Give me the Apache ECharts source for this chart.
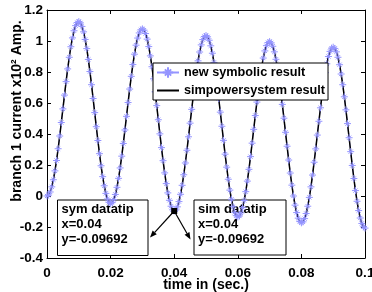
<!DOCTYPE html>
<html>
<head>
<meta charset="utf-8">
<script src="https://cdn.jsdelivr.net/npm/echarts@6/dist/echarts.min.js"></script>
<style>
  html, body { margin: 0; padding: 0; background: #fff; }
  #main { width: 372px; height: 292px; }
</style>
</head>
<body>
<div id="main"></div>
<script>
// sample step of both results (sec.)
var timeStep = 0.0005;
// branch 1 current (x10^2 A), one value per sample, t = 0 .. 0.1
var current = [
  0, 0.006, 0.026, 0.059, 0.105, 0.162, 0.229, 0.305, 0.387, 0.474,
  0.562, 0.651, 0.738, 0.820, 0.895, 0.963, 1.020, 1.066, 1.099, 1.119,
  1.125, 1.117, 1.094, 1.059, 1.010, 0.951, 0.881, 0.803, 0.718, 0.629,
  0.538, 0.447, 0.358, 0.273, 0.195, 0.125, 0.066, 0.017, -0.019, -0.041,
  -0.049, -0.043, -0.023, 0.010, 0.056, 0.114, 0.181, 0.257, 0.339, 0.426,
  0.514, 0.603, 0.690, 0.772, 0.848, 0.915, 0.973, 1.019, 1.052, 1.072,
  1.078, 1.070, 1.048, 1.012, 0.964, 0.904, 0.834, 0.756, 0.672, 0.583,
  0.492, 0.401, 0.312, 0.228, 0.149, 0.080, 0.020, -0.028, -0.066, -0.089,
  -0.09692, -0.090, -0.070, -0.036, 0.011, 0.069, 0.137, 0.213, 0.295, 0.382,
  0.470, 0.559, 0.646, 0.728, 0.804, 0.872, 0.929, 0.975, 1.009, 1.029,
  1.035, 1.027, 1.005, 0.969, 0.921, 0.862, 0.792, 0.714, 0.629, 0.541,
  0.450, 0.359, 0.270, 0.186, 0.108, 0.038, -0.021, -0.069, -0.105, -0.127,
  -0.135, -0.129, -0.109, -0.075, -0.029, 0.028, 0.096, 0.172, 0.254, 0.341,
  0.430, 0.519, 0.606, 0.688, 0.764, 0.832, 0.890, 0.936, 0.970, 0.990,
  0.996, 0.988, 0.966, 0.930, 0.882, 0.823, 0.753, 0.675, 0.591, 0.502,
  0.411, 0.321, 0.232, 0.148, 0.070, 0.000, -0.059, -0.107, -0.143, -0.165,
  -0.173, -0.167, -0.146, -0.113, -0.066, -0.009, 0.059, 0.135, 0.218, 0.304,
  0.393, 0.482, 0.569, 0.652, 0.728, 0.796, 0.853, 0.900, 0.933, 0.954,
  0.960, 0.952, 0.930, 0.895, 0.847, 0.787, 0.718, 0.640, 0.556, 0.467,
  0.376, 0.286, 0.197, 0.113, 0.035, -0.034, -0.094, -0.142, -0.177, -0.199,
  -0.207
];
var seriesNames = ['new symbolic result', 'simpowersystem result'];
// datatip point (same on both results)
var tipPoint = [0.04, -0.09692];
var tipTitles = ['sym datatip', 'sim datatip'];

var font = '"Liberation Sans", Arial, sans-serif';
var blue = '#9494ff';
var star = 'path://M0,5L10,5M5,0L5,10M2,2L8,8M8,2L2,8';

var pts = current.map(function (v, i) {
  return [+(i * timeStep).toFixed(4), v];
});

function axisBase(extra, labelMargin) {
  var a = {
    type: 'value',
    axisLine: { onZero: false, lineStyle: { color: '#000', width: 1 } },
    axisTick: { inside: true, length: 4, lineStyle: { color: '#000', width: 1 } },
    splitLine: { show: false },
    axisLabel: { color: '#000', fontFamily: font, fontWeight: 'bold', fontSize: 13.5, margin: labelMargin || 8 }
  };
  for (var k in extra) a[k] = extra[k];
  return a;
}

var tipText = function (i) {
  return tipTitles[i] + '\nx=' + tipPoint[0] + '\ny=' + tipPoint[1];
};

var option = {
  animation: false,
  grid: { left: 47, right: 7, top: 10, bottom: 34, outerBoundsMode: 'none' },
  legend: {
    orient: 'vertical',
    left: 153,
    top: 63,
    backgroundColor: '#fff',
    borderColor: '#000',
    borderWidth: 1,
    borderRadius: 0,
    padding: [3, 3, 3, 3],
    itemGap: 5,
    itemWidth: 22,
    itemHeight: 13,
    textStyle: { color: '#000', fontFamily: font, fontWeight: 'bold', fontSize: 12.7 },
    data: [seriesNames[0], { name: seriesNames[1], itemStyle: { opacity: 0 } }]
  },
  xAxis: [
    axisBase({
      min: 0, max: 0.1, interval: 0.02, position: 'bottom',
      name: 'time in (sec.)', nameLocation: 'middle', nameGap: 20, nameMoveOverlap: false,
      nameTextStyle: { color: '#000', fontFamily: font, fontWeight: 'bold', fontSize: 14 }
    }),
    axisBase({ min: 0, max: 0.1, interval: 0.02, position: 'top', axisLabel: { show: false } })
  ],
  yAxis: [
    axisBase({ min: -0.4, max: 1.2, interval: 0.2, position: 'left' }, 4),
    axisBase({ min: -0.4, max: 1.2, interval: 0.2, position: 'right', axisLabel: { show: false } })
  ],
  series: [
    {
      name: seriesNames[0],
      type: 'line',
      data: pts,
      symbol: star,
      symbolSize: 7,
      showAllSymbol: true,
      lineStyle: { color: blue, width: 1 },
      itemStyle: { color: blue, borderColor: blue, borderWidth: 1 }
    },
    {
      name: seriesNames[1],
      type: 'line',
      data: pts,
      symbol: 'none',
      lineStyle: { color: '#000', width: 1.5 },
      itemStyle: { color: '#000' },
      markPoint: {
        symbol: 'rect',
        symbolSize: 6,
        itemStyle: { color: '#000' },
        label: { show: false },
        data: [{ coord: tipPoint }]
      }
    }
  ]
};

var chart = echarts.init(document.getElementById('main'));
chart.setOption(option);

function arrow(from, to) {
  var dx = to[0] - from[0], dy = to[1] - from[1];
  var len = Math.sqrt(dx * dx + dy * dy);
  var ux = dx / len, uy = dy / len, hl = 7, hw = 2.8;
  var bx = to[0] - ux * hl, by = to[1] - uy * hl;
  return [
    { type: 'line', z: 10, shape: { x1: from[0], y1: from[1], x2: bx, y2: by },
      style: { stroke: '#000', lineWidth: 1.2 } },
    { type: 'polygon', z: 10,
      shape: { points: [[to[0], to[1]], [bx - uy * hw, by + ux * hw], [bx + uy * hw, by - ux * hw]] },
      style: { fill: '#000' } }
  ];
}

// datatip boxes sit under the curves, arrows on top
var start = chart.convertToPixel({ xAxisIndex: 0, yAxisIndex: 0 }, tipPoint);
var boxes = [
  { x: 57.5, y: 200, w: 90.5, h: 55.5, tip: [150, 237.5] },
  { x: 194, y: 200, w: 92, h: 55, tip: [190.5, 239.5] }
];
var graphic = [
  {
    type: 'text', x: 17, y: 111, rotation: Math.PI / 2,
    style: {
      text: 'branch 1 current x10\u00b2 Amp.', fill: '#000',
      font: 'bold 14px ' + font, align: 'center', verticalAlign: 'middle'
    }
  }
];
boxes.forEach(function (b, i) {
  graphic.push({ type: 'rect', z: 1, shape: { x: b.x, y: b.y, width: b.w, height: b.h },
    style: { fill: '#fff', stroke: '#000', lineWidth: 1 } });
  graphic.push({ type: 'text', z: 1, x: b.x + 4, y: b.y + 2,
    style: { text: tipText(i), fill: '#000', font: 'bold 13px ' + font, lineHeight: 15,
      align: 'left', verticalAlign: 'top' } });
  graphic = graphic.concat(arrow(start, b.tip));
});
chart.setOption({ graphic: graphic });
</script>
</body>
</html>
